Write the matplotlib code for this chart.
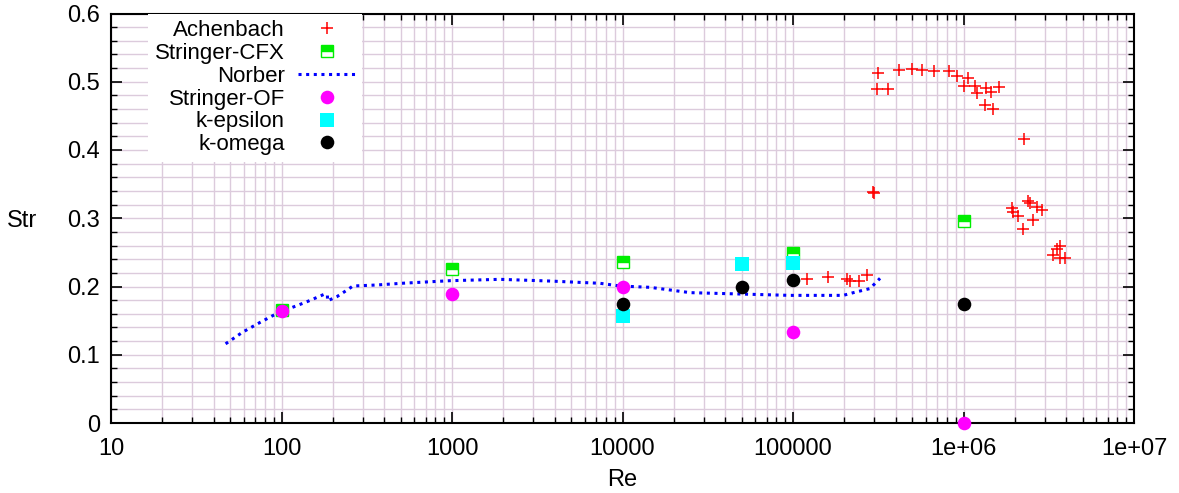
import numpy as np
import matplotlib
matplotlib.use("Agg")
import matplotlib.pyplot as plt

plt.rcParams['font.family'] = ['Liberation Sans', 'DejaVu Sans']

# Achenbach measurements
ach_re = [316400, 312200, 362200, 420300, 500800, 573300, 671500, 825700, 912600,
          1058000, 1006700, 1168000, 1355000, 1205000, 1450000, 1622000, 1337000,
          1484000, 2273000, 298600, 296000, 1917000, 1959000, 2096000, 2243000,
          2399000, 2455000, 2687000, 2875000, 2546000, 3681000, 3521000, 3363000,
          3681000, 3938000, 121300, 161100, 206500, 215900, 244800, 272800]
ach_str = [0.5124, 0.4894, 0.4894, 0.5172, 0.5182, 0.5172, 0.5162, 0.5158, 0.5089,
           0.5059, 0.4938, 0.4938, 0.4904, 0.4831, 0.4845, 0.4928, 0.4659,
           0.4596, 0.4157, 0.3366, 0.3385, 0.3146, 0.3096, 0.3033, 0.2842,
           0.3253, 0.3219, 0.3161, 0.3121, 0.2974, 0.2593, 0.2545, 0.2462,
           0.2413, 0.2413, 0.2110, 0.2144, 0.2110, 0.2080, 0.2080, 0.2168]

cfx_re = [100, 1000, 10000, 100000, 1000000]
cfx_str = [0.1656, 0.226, 0.2363, 0.2495, 0.2955]

norber_re = [47, 59, 75, 90, 112, 141, 178, 186, 186, 211, 250, 262, 361, 507,
             973, 1911, 3756, 7380, 9670, 14500, 24900, 48900, 96000, 197000,
             226000, 283000, 324000]
norber_str = [0.116, 0.1329, 0.1475, 0.158, 0.168, 0.1777, 0.1886, 0.1875, 0.179,
              0.185, 0.197, 0.2007, 0.2022, 0.2047, 0.2085, 0.2105, 0.208, 0.2047,
              0.2007, 0.1988, 0.191, 0.189, 0.187, 0.187, 0.191, 0.197, 0.212]

of_re = [100, 1000, 10000, 100000, 1000000]
of_str = [0.1646, 0.189, 0.1998, 0.1329, 0.0]

keps_re = [10000, 50000, 100000]
keps_str = [0.1568, 0.2325, 0.234]

komega_re = [10000, 50000, 100000, 1000000]
komega_str = [0.1744, 0.1993, 0.2095, 0.1744]

xticks = [10, 100, 1000, 10000, 100000, 1000000, 10000000]
xticklabels = ["10", "100", "1000", "10000", "100000", "1e+06", "1e+07"]
yticks = [0, 0.1, 0.2, 0.3, 0.4, 0.5, 0.6]
yticklabels = ["0", "0.1", "0.2", "0.3", "0.4", "0.5", "0.6"]

fig = plt.figure(figsize=(11.79, 4.93), dpi=100)
ax = fig.add_axes([111/1179., 70/493., 1023/1179., 409.5/493.])

fs = 16
gridc = '#dccbdc'

ax.plot(ach_re, ach_str, linestyle='none', marker='+', color='red',
        markersize=8.5, markeredgewidth=1.1, label='Achenbach', zorder=3)
ax.plot(cfx_re, cfx_str, linestyle='none', marker='s', color='#00ee00',
        markerfacecolor='#00ee00', markerfacecoloralt='white', fillstyle='top',
        markeredgecolor='#00ee00', markersize=8.5, markeredgewidth=1.0,
        label='Stringer-CFX', zorder=3)
ax.plot(norber_re, norber_str, color='blue', linestyle=(0, (1, 1.5)),
        linewidth=2.2, label='Norber', zorder=3)
ax.plot(of_re, of_str, linestyle='none', marker='o', color='magenta',
        markersize=9.8, markeredgewidth=0, label='Stringer-OF', zorder=3, clip_on=False)
ax.plot(keps_re, keps_str, linestyle='none', marker='s', color='cyan',
        markersize=9.5, markeredgewidth=0, label='k-epsilon', zorder=3)
ax.plot(komega_re, komega_str, linestyle='none', marker='o', color='black',
        markersize=9.8, markeredgewidth=0, label='k-omega', zorder=3)

ax.set_xscale('log')
ax.set_xlim(10, 1e7)
ax.set_ylim(0, 0.6)
ax.set_xticks(xticks)
ax.set_xticklabels(xticklabels)
ax.set_yticks(yticks)
ax.set_yticklabels(yticklabels)
ax.xaxis.set_minor_locator(matplotlib.ticker.LogLocator(base=10, subs=np.arange(2, 10)))
ax.xaxis.set_minor_formatter(matplotlib.ticker.NullFormatter())
ax.yaxis.set_minor_locator(matplotlib.ticker.MultipleLocator(0.02))

ax.tick_params(which='both', direction='in', top=True, right=True, labelsize=17)
ax.tick_params(which='major', length=8, width=1.2)
ax.tick_params(which='minor', length=4, width=1.0)
ax.tick_params(axis='x', which='major', pad=11)
ax.tick_params(axis='y', which='major', pad=8)

ax.grid(True, which='both', color=gridc, linewidth=1.0)
ax.set_axisbelow(True)
for s in ax.spines.values():
    s.set_linewidth(1.5)

ax.set_xlabel('Re', fontsize=17, va='center')
ax.xaxis.set_label_coords(0.5, -0.139)
ax.set_ylabel('Str', fontsize=17, rotation=0, ha='center', va='center')
ax.yaxis.set_label_coords(-0.087, 0.493)

leg = ax.legend(loc='upper right', bbox_to_anchor=(0.245, 1.0), markerfirst=False,
                frameon=True, fancybox=False, framealpha=1.0, edgecolor='none',
                fontsize=fs, handlelength=2.55, handletextpad=0.6, labelspacing=0.08,
                borderpad=0.3, borderaxespad=0.0, numpoints=1)
leg.set_zorder(5)

fig.savefig('out.png', dpi=100)
